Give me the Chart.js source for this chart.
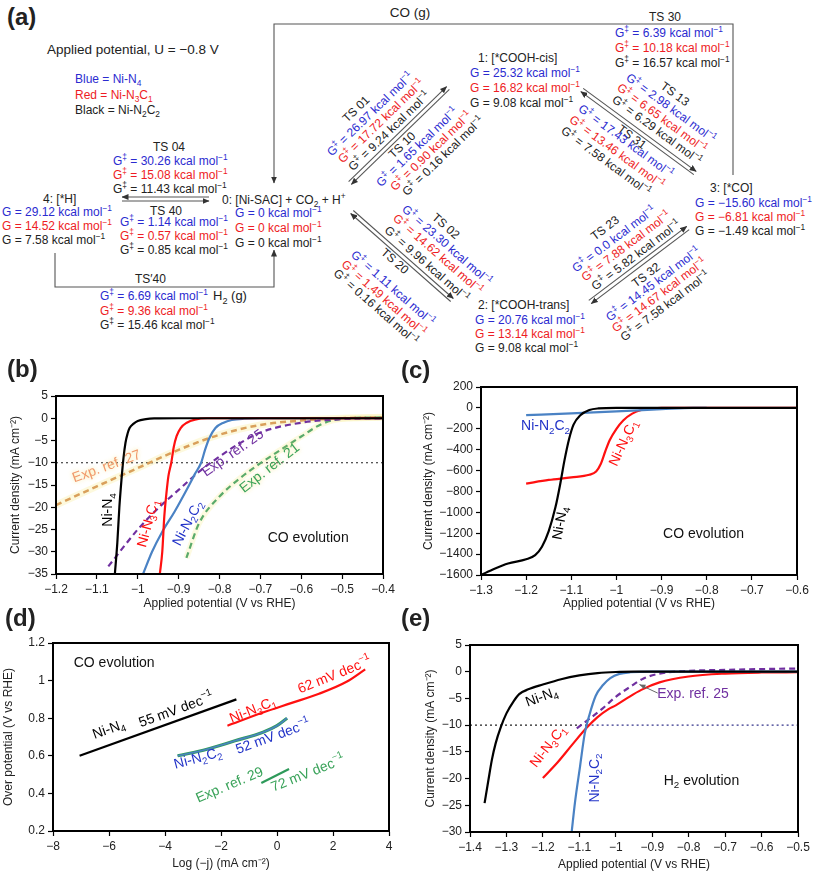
<!DOCTYPE html>
<html><head><meta charset="utf-8">
<script src="https://cdn.jsdelivr.net/npm/chart.js@4.4.1/dist/chart.umd.min.js"></script>
<style>
html,body{margin:0;padding:0;background:#fff;}
#root{position:relative;width:813px;height:873px;overflow:hidden;font-family:"Liberation Sans",Arial,Helvetica,sans-serif;}
.t{position:absolute;white-space:nowrap;font-size:12px;line-height:14px;color:#222;}
.b{color:#2b2bd0}.r{color:#ee1c24}.k{color:#222}
sub,sup{font-size:70%;line-height:0;}
canvas{position:absolute;}
</style></head>
<body><div id="root">
<svg id="sv" width="813" height="380" style="position:absolute;left:0;top:0">
<defs><marker id="ah" markerWidth="7" markerHeight="6" refX="6.5" refY="3" orient="auto" markerUnits="userSpaceOnUse"><path d="M0,0 L7,3 L0,6 z" fill="#333"/></marker></defs>
</svg>
<canvas id="cb" width="400" height="235" style="left:0;top:380px"></canvas>
<canvas id="cc" width="403" height="245" style="left:410px;top:370px"></canvas>
<canvas id="cd" width="400" height="243" style="left:0;top:630px"></canvas>
<canvas id="ce" width="403" height="243" style="left:410px;top:630px"></canvas>
</div>
<script>
// ---------------- DATA ----------------
// (b) CO evolution, current density vs applied potential
const bV_NiN4   = [-1.056,-1.05,-1.045,-1.04,-1.035,-1.03,-1.025,-1.02,-1.01,-1.0,-0.98,-0.96,-0.9,-0.4];
const bJ_NiN4   = [-35,-28,-20,-14,-9,-5.5,-3.5,-2.2,-1.2,-0.6,-0.2,-0.05,0,0];
const bV_NiN3C1 = [-0.946,-0.94,-0.935,-0.93,-0.925,-0.918,-0.912,-0.905,-0.895,-0.88,-0.86,-0.83,-0.4];
const bJ_NiN3C1 = [-35,-30,-22,-17,-13,-10,-6.5,-4,-2.2,-1,-0.3,0,0];
const bV_NiN2C2 = [-0.987,-0.965,-0.94,-0.91,-0.88,-0.86,-0.845,-0.835,-0.825,-0.81,-0.79,-0.77,-0.74,-0.7,-0.4];
const bJ_NiN2C2 = [-35,-30,-25.5,-21,-16,-12.5,-10,-7,-4.5,-2.2,-1,-0.4,-0.1,0,0];
const bV_ref27  = [-1.2,-1.1,-1.0,-0.9,-0.8,-0.7,-0.6,-0.5,-0.4];
const bJ_ref27  = [-19.5,-15.3,-11.2,-7.1,-3.7,-1.5,-0.5,0,0.2];
const bV_ref25  = [-1.072,-1.0,-0.95,-0.9,-0.85,-0.8,-0.75,-0.7,-0.6,-0.5,-0.4];
const bJ_ref25  = [-33.3,-25,-20.2,-16.1,-12,-8.6,-5.6,-3.2,-1.0,-0.2,0];
const bV_ref21  = [-0.881,-0.85,-0.8,-0.75,-0.7,-0.65,-0.6,-0.55,-0.5,-0.4];
const bJ_ref21  = [-31.4,-23.6,-17.6,-13.5,-10.1,-7.1,-4.1,-1.3,-0.1,0.2];
const bLevelV   = [-1.2,-0.4];
const bLevelJ   = [-10,-10];
// (c) CO evolution, wide range
const cV_NiN4   = [-1.3,-1.27,-1.24,-1.2,-1.18,-1.165,-1.15,-1.135,-1.125,-1.115,-1.105,-1.095,-1.08,-1.06,-1.04,-1.0,-0.6];
const cJ_NiN4   = [-1600,-1540,-1490,-1450,-1410,-1330,-1180,-950,-740,-500,-300,-160,-70,-20,-5,0,0];
const cV_NiN3C1 = [-1.2,-1.15,-1.1,-1.06,-1.045,-1.035,-1.025,-1.015,-1.0,-0.985,-0.965,-0.945,-0.92,-0.9,-0.6];
const cJ_NiN3C1 = [-725,-690,-665,-640,-610,-540,-420,-310,-200,-120,-55,-20,-5,0,0];
const cV_NiN2C2 = [-1.2,-1.1,-1.0,-0.9,-0.83,-0.8];
const cJ_NiN2C2 = [-70,-52,-33,-13,0,0];
// (d) Tafel plots
const dLogJ_NiN4   = [-7.05,-1.45];
const dEta_NiN4    = [0.60,0.90];
const dLogJ_NiN3C1 = [-1.77,-0.5,0.5,1.5,2.5,3.15];
const dEta_NiN3C1  = [0.76,0.83,0.88,0.93,0.995,1.06];
const dLogJ_NiN2C2 = [-3.55,-2.5,-1.5,-0.5,0,0.36];
const dEta_NiN2C2  = [0.60,0.635,0.68,0.725,0.76,0.80];
const dLogJ_ref29  = [-0.56,0.43];
const dEta_ref29   = [0.455,0.53];
// (e) H2 evolution
const eV_NiN4   = [-1.36,-1.35,-1.34,-1.33,-1.315,-1.3,-1.28,-1.265,-1.24,-1.2,-1.15,-1.1,-1.05,-1.0,-0.95,-0.5];
const eJ_NiN4   = [-24.6,-20.5,-16.5,-13.5,-10.3,-7.8,-5.5,-4.2,-3.3,-2.4,-1.4,-0.7,-0.25,-0.05,0,0];
const eV_NiN3C1 = [-1.2,-1.16,-1.12,-1.08,-1.05,-1.02,-1.0,-0.97,-0.93,-0.88,-0.8,-0.7,-0.6,-0.5];
const eJ_NiN3C1 = [-19.9,-17,-13.7,-10.5,-8.5,-7.0,-6.3,-5.0,-3.4,-2.0,-0.9,-0.35,-0.15,-0.1];
const eV_NiN2C2 = [-1.121,-1.112,-1.098,-1.085,-1.072,-1.055,-1.035,-1.015,-0.99,-0.96,-0.9,-0.5];
const eJ_NiN2C2 = [-30,-24.5,-17.7,-11.5,-8,-4.5,-2.5,-1.2,-0.4,-0.1,0,0];
const eV_ref25  = [-1.107,-1.07,-1.035,-1.0,-0.96,-0.925,-0.88,-0.8,-0.7,-0.6,-0.5];
const eJ_ref25  = [-10.6,-8.7,-6.8,-4.7,-2.8,-1.3,-0.35,0.15,0.35,0.5,0.6];
const eLevelV1  = [-1.4,-1.08];
const eLevelV2  = [-1.08,-0.5];
const eLevelJ   = [-10,-10];

// ---------------- COLOURS ----------------
const BLACK='#000000', RED='#ff1010', STEEL='#4a82c4', PURPLE='#7030a0', ORANGE='#d9a05b', GREEN='#5aaa6a';
const TXTBLUE='#2233c8', TXTORANGE='#f0986a', TXTGREEN='#3aa35a';
const F='"Liberation Sans", Arial, Helvetica, sans-serif';

// ---------------- PANEL (a): reaction network ----------------
const root=document.getElementById('root');
const sv=document.getElementById('sv');
function T(x,y,html,cls,opt){
  opt=opt||{};
  const d=document.createElement('div'); d.className='t '+(cls||'');
  d.innerHTML=html; d.style.left=x+'px'; d.style.top=y+'px';
  const ax=opt.anchor==='c'?'-50%':'0';
  d.style.transform='translate('+ax+',-50%)'+(opt.rot?' rotate('+opt.rot+'deg)':'');
  if(opt.size) d.style.fontSize=opt.size+'px';
  if(opt.bold) d.style.fontWeight='bold';
  root.appendChild(d);
}
function L(pts,head){
  const p=document.createElementNS('http://www.w3.org/2000/svg','polyline');
  p.setAttribute('points',pts.map(q=>q.join(',')).join(' '));
  p.setAttribute('fill','none'); p.setAttribute('stroke','#555'); p.setAttribute('stroke-width','1.1');
  if(head) p.setAttribute('marker-end','url(#ah)');
  sv.appendChild(p);
}
function dbl(x1,y1,x2,y2){
  const dx=x2-x1,dy=y2-y1,l=Math.hypot(dx,dy),ux=dx/l,uy=dy/l,nx=uy,ny=-ux,d=2;
  L([[x1+nx*d,y1+ny*d],[x2+nx*d,y2+ny*d]],true);
  L([[x2-nx*d,y2-ny*d],[x1-nx*d,y1-ny*d]],true);
}
function diag(x1,y1,x2,y2,items){
  const dx=x2-x1,dy=y2-y1,l=Math.hypot(dx,dy),ux=dx/l,uy=dy/l,nx=uy,ny=-ux;
  const mx=(x1+x2)/2,my=(y1+y2)/2,ang=Math.atan2(dy,dx)*180/Math.PI;
  items.forEach(it=>T(mx+nx*it[2]+ux*it[3],my+ny*it[2]+uy*it[3],it[0],it[1],{anchor:'c',rot:ang}));
}
const gs=v=>'G<sup>‡</sup> = '+v+' kcal mol<sup>−1</sup>';
const g=v=>'G = '+v+' kcal mol<sup>−1</sup>';

T(7,17,'(a)','k',{size:24,bold:1});
T(47,50,'Applied potential, U = −0.8 V','k',{size:13.5});
T(75,79,'Blue = Ni-N<sub>4</sub>','b');
T(75,95,'Red = Ni-N<sub>3</sub>C<sub>1</sub>','r');
T(75,110,'Black = Ni-N<sub>2</sub>C<sub>2</sub>','k');
T(410,13,'CO (g)','k',{size:13.5,anchor:'c'});
T(665,17,'TS 30','k',{anchor:'c'});
T(615,33,gs('6.39'),'b'); T(615,48,gs('10.18'),'r'); T(615,63,gs('16.57'),'k');
T(478,58,'1: [*COOH-cis]','k');
T(470,73,g('25.32'),'b'); T(470,88,g('16.82'),'r'); T(470,103,g('9.08'),'k');
T(169,147,'TS 04','k',{anchor:'c'});
T(113,161,gs('30.26'),'b'); T(113,175,gs('15.08'),'r'); T(113,189,gs('11.43'),'k');
T(43,199,'4: [*H]','k');
T(2,212,g('29.12'),'b'); T(2,226,g('14.52'),'r'); T(2,240,g('7.58'),'k');
T(166,211,'TS 40','k',{anchor:'c'});
T(120,222,gs('1.14'),'b'); T(120,236,gs('0.57'),'r'); T(120,250,gs('0.85'),'k');
T(222,200,'0: [Ni-SAC] + CO<sub>2</sub> + H<sup>+</sup>','k');
T(235,213,g('0'),'b'); T(235,228,g('0'),'r'); T(235,243,g('0'),'k');
T(135,279,'TS′40','k');
T(100,296,gs('6.69'),'b'); T(213,296,'H<sub>2</sub> (g)','k',{size:13});
T(100,311,gs('9.36'),'r'); T(100,325,gs('15.46'),'k');
T(710,188,'3: [*CO]','k');
T(695,203,g('−15.60'),'b'); T(695,217,g('−6.81'),'r'); T(695,231,g('−1.49'),'k');
T(478,305,'2: [*COOH-trans]','k');
T(475,320,g('20.76'),'b'); T(475,334,g('13.14'),'r'); T(475,348,g('9.08'),'k');

// routes
L([[733,175],[733,24],[274,24],[274,183]],true);
L([[55,253],[55,287],[274,287],[274,250]],true);
L([[209,197],[122,197]],true);
L([[122,201],[209,201]],true);
dbl(350,183,448,88);
dbl(452,300,352,212);
dbl(582,90,695,173);
dbl(688,228,590,302);

diag(350,183,448,88,[
  ['TS 01','k',49,-12],[gs('26.97'),'b',36,-6],[gs('17.72'),'r',23,-3],[gs('9.24'),'k',10,-4],
  ['TS 10','k',-9,-4],[gs('1.65'),'b',-21,5],[gs('0.90'),'r',-33,12],[gs('0.16'),'k',-45,17]]);
diag(352,212,452,300,[
  ['TS 02','k',52,13],[gs('23.30'),'b',38,27],[gs('14.62'),'r',25,26],[gs('9.96'),'k',11,24],
  ['TS 20','k',-9,-2],[gs('1.11'),'b',-30,14],[gs('1.49'),'r',-43,14],[gs('0.16'),'k',-56,14]]);
diag(582,90,695,173,[
  ['TS 13','k',52,7],[gs('2.98'),'b',38,12],[gs('6.65'),'r',25,11],[gs('6.29'),'k',12,14],
  ['TS 31','k',-8,-2],[gs('17.43'),'b',-15,-4],[gs('13.46'),'r',-29,-5],[gs('7.58'),'k',-43,-9]]);
diag(590,302,688,228,[
  ['TS 23','k',50,-5],[gs('0.0'),'b',36,-4],[gs('7.88'),'r',23,1],[gs('5.82'),'k',10,4],
  ['TS 32','k',-12,0],[gs('14.45'),'b',-24,0],[gs('14.67'),'r',-36,-2],[gs('7.58'),'k',-48,-4]]);

// panel letters
T(7,369,'(b)','k',{size:24,bold:1});
T(401,370,'(c)','k',{size:24,bold:1});
T(5,618,'(d)','k',{size:24,bold:1});
T(401,618,'(e)','k',{size:24,bold:1});

// ---------------- CHARTS ----------------
Chart.defaults.font.family=F;
Chart.defaults.color='#222';
function fmt(v){const r=Math.round(v*100)/100; if(r===0) return '0'; return (r<0?'\u2212':'')+String(Math.abs(r));}
function xy(xs,ys){return xs.map((x,i)=>({x:x,y:ys[i]}));}
function ds(xs,ys,color,width,extra){
  return Object.assign({data:xy(xs,ys),borderColor:color,backgroundColor:color,borderWidth:width,pointRadius:0,
    showLine:true,fill:false,cubicInterpolationMode:'monotone'},extra||{});
}
function parseRich(s){
  const segs=[];let i=0,cur='';
  while(i<s.length){const c=s[i];
    if((c==='_'||c==='^')&&s[i+1]==='{'){ if(cur){segs.push({t:cur,k:0});cur='';}
      const j=s.indexOf('}',i); segs.push({t:s.slice(i+2,j),k:c==='_'?1:2}); i=j+1;}
    else {cur+=c;i++;}}
  if(cur) segs.push({t:cur,k:0});
  return segs;
}
function drawRich(ctx,s,x,y,size,color,rot,align,glow){
  const segs=parseRich(s);
  ctx.save(); ctx.translate(x,y); ctx.rotate(rot*Math.PI/180);
  ctx.fillStyle=color; ctx.textBaseline='middle'; ctx.textAlign='left';
  if(glow){ctx.shadowColor='rgba(245,225,110,0.8)';ctx.shadowBlur=4;}
  let w=0; const ws=segs.map(gg=>{ctx.font=(gg.k?size*0.7:size)+'px '+F; const m=ctx.measureText(gg.t).width; w+=m; return m;});
  let cx=align==='left'?0:-w/2;
  segs.forEach((gg,i)=>{ctx.font=(gg.k?size*0.7:size)+'px '+F;
    const dy=gg.k===1?size*0.32:(gg.k===2?-size*0.38:0);
    ctx.fillText(gg.t,cx,dy); cx+=ws[i];});
  ctx.restore();
}
const decoPlugin={id:'deco',
  afterDatasetsDraw(chart,args,o){
    const ctx=chart.ctx,X=chart.scales.x,Y=chart.scales.y,a=chart.chartArea;
    (o.arrows||[]).forEach(r=>{
      const x1=X.getPixelForValue(r[0]),y1=Y.getPixelForValue(r[1]),x2=X.getPixelForValue(r[2]),y2=Y.getPixelForValue(r[3]);
      ctx.save();ctx.strokeStyle=r[4];ctx.fillStyle=r[4];ctx.lineWidth=1;
      ctx.beginPath();ctx.moveTo(x1,y1);ctx.lineTo(x2,y2);ctx.stroke();
      const an=Math.atan2(y2-y1,x2-x1);ctx.translate(x2,y2);ctx.rotate(an);
      ctx.beginPath();ctx.moveTo(0,0);ctx.lineTo(-6,-2.5);ctx.lineTo(-6,2.5);ctx.closePath();ctx.fill();ctx.restore();
    });
    (o.labels||[]).forEach(l=>drawRich(ctx,l.s,X.getPixelForValue(l.x),Y.getPixelForValue(l.y),l.size||14,l.c||'#111',l.rot||0,l.align||'center',l.glow));
    ctx.save();ctx.strokeStyle='#000';ctx.lineWidth=2;ctx.strokeRect(a.left,a.top,a.right-a.left,a.bottom-a.top);ctx.restore();
  }};
function ax(pos,min,max,step,title,size,tpad){
  return {type:'linear',position:pos,min:min,max:max,
    ticks:{stepSize:step,autoSkip:false,maxRotation:0,color:'#222',font:{size:12},padding:3,callback:v=>fmt(v)},
    grid:{drawOnChartArea:false,drawTicks:true,tickLength:5,tickColor:'#000',tickWidth:1.2},
    border:{display:true,color:'#000',width:2},
    title:{display:true,text:title,color:'#222',font:{size:12},padding:tpad},
    afterFit:s=>{ if(pos==='bottom') s.height=size; else s.width=size; }};
}
function mk(id,pad,datasets,xA,yA,deco){
  return new Chart(document.getElementById(id),{type:'scatter',data:{datasets:datasets},
    options:{responsive:false,animation:false,devicePixelRatio:1,layout:{padding:pad},
      plugins:{legend:{display:false},tooltip:{enabled:false},deco:deco},
      scales:{x:xA,y:yA}},plugins:[decoPlugin]});
}
const XT='Applied potential (V vs RHE)', YT='Current density (mA cm\u207B\u00B2)';

// (b)
mk('cb',{top:16,right:17,left:0,bottom:0},[
  ds(bV_NiN4,bJ_NiN4,BLACK,2.2),
  ds(bV_NiN3C1,bJ_NiN3C1,RED,2.2),
  ds(bV_NiN2C2,bJ_NiN2C2,STEEL,2.2),
  ds(bV_ref25,bJ_ref25,PURPLE,2.2,{borderDash:[6,4]}),
  ds(bV_ref21,bJ_ref21,GREEN,2.2,{borderDash:[6,4]}),
  ds(bV_ref27,bJ_ref27,ORANGE,2.5,{borderDash:[6,4]}),
  ds(bLevelV,bLevelJ,'#222',1.2,{borderDash:[2,3],cubicInterpolationMode:'default'}),
  ds(bV_ref21,bJ_ref21,'rgba(250,240,170,0.35)',6),
  ds(bV_ref27,bJ_ref27,'rgba(250,240,170,0.4)',7)
],ax('bottom',-1.2,-0.4,0.1,XT,41,{top:0,bottom:4}),ax('left',-35,5,5,YT,56,{top:8,bottom:0}),
{labels:[
  {s:'Ni-N_{4}',x:-1.072,y:-20.6,rot:-90,c:BLACK},
  {s:'Ni-N_{3}C_{1}',x:-0.974,y:-23.6,rot:-75,c:RED},
  {s:'Ni-N_{2}C_{2}',x:-0.877,y:-23.6,rot:-62,c:TXTBLUE},
  {s:'Exp. ref. 27',x:-1.076,y:-10.9,rot:-20,c:TXTORANGE,glow:true},
  {s:'Exp. ref. 25',x:-0.767,y:-7.9,rot:-35,c:PURPLE},
  {s:'Exp. ref. 21',x:-0.677,y:-11.2,rot:-38,c:TXTGREEN,glow:true},
  {s:'CO evolution',x:-0.583,y:-26.9,c:'#111'}]});

// (c)
mk('cc',{top:17,right:16,left:0,bottom:0},[
  ds(cV_NiN4,cJ_NiN4,BLACK,2.2),
  ds(cV_NiN2C2,cJ_NiN2C2,STEEL,2.2),
  ds(cV_NiN3C1,cJ_NiN3C1,RED,2.2)
],ax('bottom',-1.3,-0.6,0.1,XT,40,{top:0,bottom:4}),ax('left',-1600,200,200,YT,71,{top:11,bottom:0}),
{labels:[
  {s:'Ni-N_{2}C_{2}',x:-1.157,y:-177,c:TXTBLUE},
  {s:'Ni-N_{3}C_{1}',x:-0.984,y:-337,rot:-65,c:RED},
  {s:'Ni-N_{4}',x:-1.124,y:-1104,rot:-80,c:BLACK},
  {s:'CO evolution',x:-0.807,y:-1207,c:'#111'}]});

// (d)
mk('cd',{top:13,right:11,left:0,bottom:0},[
  ds(dLogJ_NiN4,dEta_NiN4,BLACK,2.2),
  ds(dLogJ_NiN3C1,dEta_NiN3C1,RED,2.2),
  ds(dLogJ_NiN2C2,dEta_NiN2C2,STEEL,1.6),
  ds(dLogJ_NiN2C2,dEta_NiN2C2,'#2e9a5a',3.2),
  ds(dLogJ_ref29,dEta_ref29,'#2e9a5a',2.2)
],ax('bottom',-8,4,2,'Log (\u2212j) (mA cm\u207B\u00B2)',42,{top:0,bottom:2}),ax('left',0.2,1.2,0.2,'Over potential (V vs RHE)',53,{top:1,bottom:0}),
{labels:[
  {s:'CO evolution',x:-7.26,y:1.094,align:'left',c:'#111'},
  {s:'Ni-N_{4}',x:-6.0,y:0.739,rot:-20,c:BLACK},
  {s:'55 mV dec^{\u22121}',x:-3.6,y:0.842,rot:-20,c:BLACK},
  {s:'Ni-N_{3}C_{1}',x:-0.857,y:0.842,rot:-22,c:RED},
  {s:'62 mV dec^{\u22121}',x:2.06,y:1.028,rot:-22,c:RED},
  {s:'Ni-N_{2}C_{2}',x:-2.82,y:0.585,rot:-15,c:TXTBLUE},
  {s:'52 mV dec^{\u22121}',x:-0.14,y:0.70,rot:-20,c:TXTBLUE},
  {s:'Exp. ref. 29',x:-1.69,y:0.443,rot:-23,c:TXTGREEN},
  {s:'72 mV dec^{\u22121}',x:1.11,y:0.505,rot:-22,c:TXTGREEN}]});

// (e)
mk('ce',{top:15,right:15,left:0,bottom:0},[
  ds(eV_NiN4,eJ_NiN4,BLACK,2.2),
  ds(eV_NiN2C2,eJ_NiN2C2,STEEL,2.2),
  ds(eV_ref25,eJ_ref25,PURPLE,2.2,{borderDash:[6,4]}),
  ds(eV_NiN3C1,eJ_NiN3C1,RED,2.2),
  ds(eLevelV1,eLevelJ,'#222',1.2,{borderDash:[2,3],cubicInterpolationMode:'default'}),
  ds(eLevelV2,eLevelJ,'#33338a',1.2,{borderDash:[2,3],cubicInterpolationMode:'default'})
],ax('bottom',-1.4,-0.5,0.1,XT,41,{top:0,bottom:1}),ax('left',-30,5,5,YT,60,{top:13,bottom:0}),
{arrows:[[-0.885,-4.0,-0.935,-2.4,'#666']],
 labels:[
  {s:'Ni-N_{4}',x:-1.203,y:-4.8,rot:-20,c:BLACK},
  {s:'Ni-N_{3}C_{1}',x:-1.185,y:-14.0,rot:-52,c:RED},
  {s:'Ni-N_{2}C_{2}',x:-1.057,y:-19.9,rot:-90,c:TXTBLUE},
  {s:'Exp. ref. 25',x:-0.788,y:-4.15,c:PURPLE},
  {s:'H_{2} evolution',x:-0.765,y:-20.5,c:'#111'}]});
</script>
</body></html>
